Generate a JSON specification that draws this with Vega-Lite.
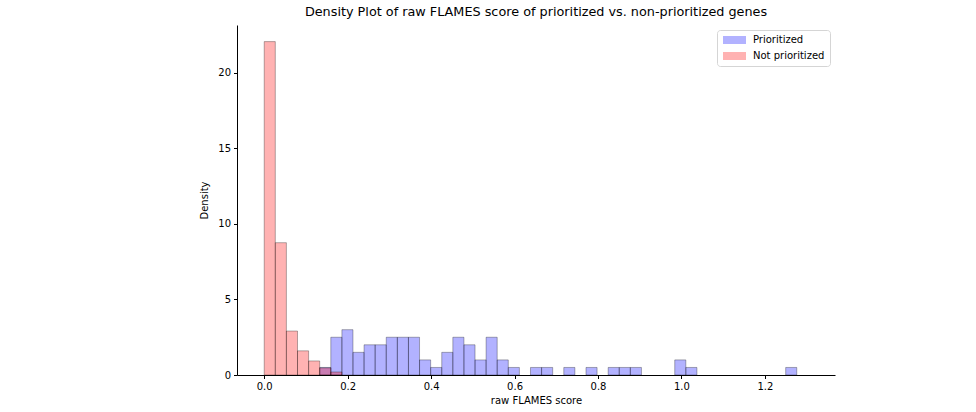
{
  "$schema": "https://vega.github.io/schema/vega-lite/v6.json",
  "width": 598,
  "height": 350,
  "autosize": {"type": "none"},
  "padding": {"left": 237, "top": 25, "right": 141, "bottom": 37},
  "background": "white",
  "config": {
    "view": {"stroke": null},
    "font": "DejaVu Sans",
    "axis": {"grid": false, "domainColor": "black", "tickColor": "black", "labelColor": "black", "titleColor": "black", "labelFont": "DejaVu Sans", "titleFont": "DejaVu Sans", "labelFontSize": 10, "titleFontSize": 10, "titleFontWeight": "normal", "tickSize": 3.5, "labelPadding": 3, "domainWidth": 1, "tickWidth": 1}
  },
  "title": {"text": "Density Plot of raw FLAMES score of prioritized vs. non-prioritized genes", "font": "DejaVu Sans", "fontSize": 12.8, "fontWeight": "normal", "color": "black", "anchor": "middle", "offset": 6},
  "data": {"values": [
    {"group": "Prioritized", "bin_start": 0.1330, "bin_end": 0.1596, "density": 0.5},
    {"group": "Prioritized", "bin_start": 0.1596, "bin_end": 0.1862, "density": 2.5},
    {"group": "Prioritized", "bin_start": 0.1862, "bin_end": 0.2127, "density": 3.0},
    {"group": "Prioritized", "bin_start": 0.2127, "bin_end": 0.2393, "density": 1.5},
    {"group": "Prioritized", "bin_start": 0.2393, "bin_end": 0.2659, "density": 2.0},
    {"group": "Prioritized", "bin_start": 0.2659, "bin_end": 0.2925, "density": 2.0},
    {"group": "Prioritized", "bin_start": 0.2925, "bin_end": 0.3191, "density": 2.5},
    {"group": "Prioritized", "bin_start": 0.3191, "bin_end": 0.3457, "density": 2.5},
    {"group": "Prioritized", "bin_start": 0.3457, "bin_end": 0.3723, "density": 2.5},
    {"group": "Prioritized", "bin_start": 0.3723, "bin_end": 0.3989, "density": 1.0},
    {"group": "Prioritized", "bin_start": 0.3989, "bin_end": 0.4255, "density": 0.5},
    {"group": "Prioritized", "bin_start": 0.4255, "bin_end": 0.4521, "density": 1.5},
    {"group": "Prioritized", "bin_start": 0.4521, "bin_end": 0.4787, "density": 2.5},
    {"group": "Prioritized", "bin_start": 0.4787, "bin_end": 0.5053, "density": 2.0},
    {"group": "Prioritized", "bin_start": 0.5053, "bin_end": 0.5318, "density": 1.0},
    {"group": "Prioritized", "bin_start": 0.5318, "bin_end": 0.5584, "density": 2.5},
    {"group": "Prioritized", "bin_start": 0.5584, "bin_end": 0.5850, "density": 1.0},
    {"group": "Prioritized", "bin_start": 0.5850, "bin_end": 0.6116, "density": 0.5},
    {"group": "Prioritized", "bin_start": 0.6382, "bin_end": 0.6648, "density": 0.5},
    {"group": "Prioritized", "bin_start": 0.6648, "bin_end": 0.6914, "density": 0.5},
    {"group": "Prioritized", "bin_start": 0.7180, "bin_end": 0.7446, "density": 0.5},
    {"group": "Prioritized", "bin_start": 0.7712, "bin_end": 0.7978, "density": 0.5},
    {"group": "Prioritized", "bin_start": 0.8244, "bin_end": 0.8509, "density": 0.5},
    {"group": "Prioritized", "bin_start": 0.8509, "bin_end": 0.8775, "density": 0.5},
    {"group": "Prioritized", "bin_start": 0.8775, "bin_end": 0.9041, "density": 0.5},
    {"group": "Prioritized", "bin_start": 0.9839, "bin_end": 1.0105, "density": 1.0},
    {"group": "Prioritized", "bin_start": 1.0105, "bin_end": 1.0371, "density": 0.5},
    {"group": "Prioritized", "bin_start": 1.2498, "bin_end": 1.2764, "density": 0.5},
    {"group": "Not prioritized", "bin_start": 0.0, "bin_end": 0.0266, "density": 22.07},
    {"group": "Not prioritized", "bin_start": 0.0266, "bin_end": 0.0532, "density": 8.76},
    {"group": "Not prioritized", "bin_start": 0.0532, "bin_end": 0.0798, "density": 2.91},
    {"group": "Not prioritized", "bin_start": 0.0798, "bin_end": 0.1064, "density": 1.6},
    {"group": "Not prioritized", "bin_start": 0.1064, "bin_end": 0.1330, "density": 0.93},
    {"group": "Not prioritized", "bin_start": 0.1330, "bin_end": 0.1596, "density": 0.47},
    {"group": "Not prioritized", "bin_start": 0.1596, "bin_end": 0.1862, "density": 0.2}
  ]},
  "mark": {"type": "rect", "stroke": "black", "strokeWidth": 1, "strokeOpacity": 0.3, "fillOpacity": 0.3, "clip": true},
  "encoding": {
    "x": {"field": "bin_start", "type": "quantitative", "scale": {"domain": [-0.0652, 1.368], "nice": false, "zero": false},
          "axis": {"title": "raw FLAMES score", "values": [0, 0.2, 0.4, 0.6, 0.8, 1.0, 1.2], "format": ".1f", "titlePadding": 4}},
    "x2": {"field": "bin_end"},
    "y": {"field": "density", "type": "quantitative", "stack": null, "scale": {"domain": [0, 23.17], "nice": false},
          "axis": {"title": "Density", "values": [0, 5, 10, 15, 20], "titlePadding": 8}},
    "y2": {"datum": 0},
    "color": {"field": "group", "type": "nominal",
              "scale": {"domain": ["Prioritized", "Not prioritized"], "range": ["blue", "red"]},
              "legend": {"title": null, "orient": "top-right", "offset": 5, "symbolType": "M-1,-1H4.75V1H-1Z", "symbolSize": 64, "symbolOpacity": 0.3, "symbolStrokeWidth": 0, "labelFontSize": 10, "labelFont": "DejaVu Sans", "labelColor": "black", "rowPadding": 6, "padding": 5, "strokeColor": "#d5d5d5", "fillColor": "white", "cornerRadius": 3, "labelOffset": 21}},
    "order": {"field": "group", "sort": "descending"}
  }
}
